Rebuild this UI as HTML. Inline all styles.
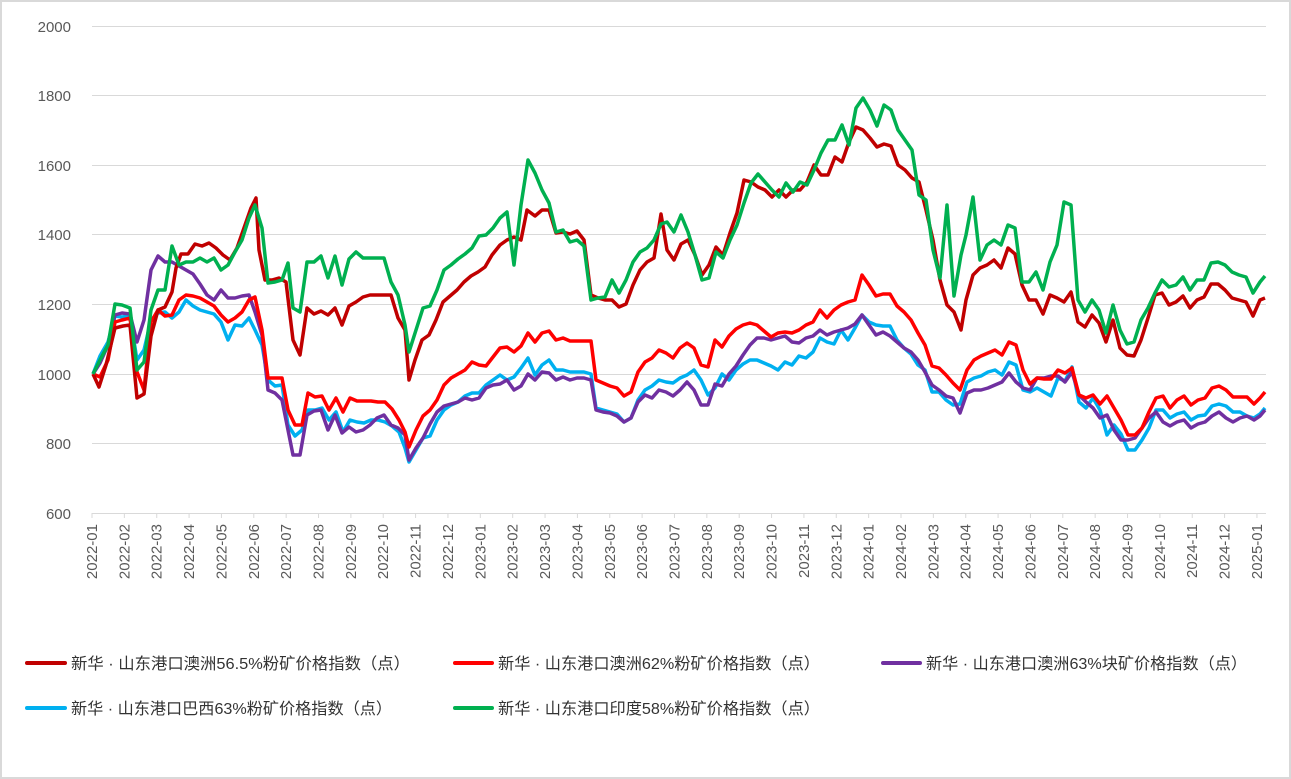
<!DOCTYPE html>
<html><head><meta charset="utf-8"><style>
body{margin:0;background:#fff}
svg{display:block}
text{font-family:"Liberation Sans","Noto Sans CJK SC",sans-serif;fill:#595959}
.lg{font-size:16px;fill:#333}
</style></head><body>
<svg width="1291" height="779" viewBox="0 0 1291 779">
<rect x="1" y="1" width="1289" height="777" fill="#fff" stroke="#d9d9d9" stroke-width="2"/>
<g stroke="#d9d9d9" stroke-width="1">
<line x1="92" y1="26.5" x2="1266" y2="26.5"/><line x1="92" y1="95.5" x2="1266" y2="95.5"/>
<line x1="92" y1="165.5" x2="1266" y2="165.5"/><line x1="92" y1="234.5" x2="1266" y2="234.5"/>
<line x1="92" y1="304.5" x2="1266" y2="304.5"/><line x1="92" y1="374.5" x2="1266" y2="374.5"/>
<line x1="92" y1="443.5" x2="1266" y2="443.5"/><line x1="92" y1="513.5" x2="1266" y2="513.5"/>
</g>
<g font-size="15" text-anchor="end">
<text x="71" y="32">2000</text><text x="71" y="101">1800</text><text x="71" y="171">1600</text>
<text x="71" y="240">1400</text><text x="71" y="310">1200</text><text x="71" y="380">1000</text>
<text x="71" y="449">800</text><text x="71" y="519">600</text>
</g>
<g id="ticks" stroke="#d9d9d9"></g>
<g id="xl" font-size="15" text-anchor="end"></g>
<g fill="none" stroke-width="3.5" stroke-linejoin="round">
<polyline stroke="#00b0f0" points="93,374 100,356 108,342 115,316 122,317 130,316 137,360 144,350 151,320 158,313 165,312 172,318 179,312 186,300 193,306 200,310 207,312 214,314 221,322 228,340 235,325 242,326 249,318 255,330 262,345 268,380 275,386 282,385 288,425 295,436 302,430 308,410 315,410 322,408 329,420 336,412 343,432 350,420 357,422 364,423 371,420 378,420 385,422 392,426 399,432 405,448 409,462 416,450 423,438 430,436 437,420 444,410 451,405 458,402 465,396 472,393 479,393 486,385 493,380 500,375 507,380 514,377 521,368 528,358 535,375 542,365 549,360 556,370 563,370 570,372 577,372 584,372 591,374 596,408 603,410 610,412 617,414 624,422 631,418 638,400 645,390 652,386 659,380 666,382 673,383 680,378 687,375 694,370 701,380 708,395 715,388 722,374 729,380 736,370 743,364 750,360 757,360 764,363 771,366 778,370 785,362 792,365 799,356 806,358 813,352 820,338 827,342 834,344 841,330 848,340 855,328 862,315 869,322 876,325 883,326 890,326 897,340 904,348 911,354 918,365 925,370 932,392 939,392 946,400 953,405 960,404 967,382 974,378 981,376 988,372 995,370 1002,375 1009,362 1016,365 1023,390 1030,392 1037,388 1044,392 1051,396 1058,378 1065,381 1072,367 1079,402 1086,408 1093,398 1100,410 1107,435 1114,425 1121,434 1128,450 1135,450 1142,440 1149,428 1156,410 1163,410 1170,418 1177,414 1184,412 1191,420 1198,416 1205,415 1212,406 1219,404 1226,406 1233,412 1240,412 1247,416 1254,418 1260,414 1265,408"/>
<polyline stroke="#7030a0" points="93,374 100,363 108,345 115,315 122,313 130,314 137,342 144,320 151,270 158,256 165,262 172,262 179,266 186,270 193,274 200,284 207,295 214,300 221,290 228,298 235,298 242,296 249,295 255,312 262,335 268,390 275,393 282,400 288,430 293,455 300,455 307,415 314,411 321,410 328,430 335,415 342,433 349,427 356,432 363,430 370,425 377,418 384,415 391,425 398,428 405,435 409,460 416,448 423,438 430,424 437,412 444,406 451,404 458,402 465,398 472,400 479,398 486,388 493,385 500,384 507,380 514,390 521,386 528,374 535,380 542,372 549,373 556,380 563,377 570,380 577,378 584,378 591,380 596,410 603,412 610,413 617,416 624,422 631,418 638,402 645,395 652,398 659,390 666,392 673,396 680,390 687,382 694,390 701,405 708,405 715,384 722,386 729,374 736,366 743,355 750,345 757,338 764,338 771,340 778,338 785,336 792,342 799,343 806,338 813,336 820,330 827,335 834,332 841,330 848,328 855,324 862,315 869,325 876,335 883,332 890,336 897,342 904,348 911,352 918,360 925,372 932,385 939,390 946,396 953,398 960,413 967,393 974,390 981,390 988,388 995,385 1002,382 1009,373 1016,382 1023,388 1030,390 1037,378 1044,378 1051,376 1058,376 1065,382 1072,372 1079,395 1086,402 1093,408 1100,418 1107,415 1114,430 1121,440 1128,440 1135,438 1142,428 1149,418 1156,412 1163,422 1170,426 1177,422 1184,420 1191,428 1198,424 1205,422 1212,416 1219,412 1226,418 1233,422 1240,418 1247,416 1254,420 1260,416 1265,410"/>
<polyline stroke="#ff0000" points="93,374 100,377 108,360 115,322 122,320 130,318 137,372 144,390 151,322 158,310 165,316 172,315 179,300 186,295 193,296 200,298 207,302 214,306 221,315 228,322 235,318 242,312 249,300 255,297 262,330 268,378 275,378 282,378 288,410 295,425 302,425 308,393 315,397 322,396 329,410 336,398 343,412 350,398 357,401 364,401 371,401 378,402 385,402 392,409 399,420 405,432 409,447 416,430 423,416 430,410 437,400 444,385 451,378 458,374 465,370 472,362 479,365 486,366 493,357 500,348 507,347 514,352 521,346 528,333 535,342 542,333 549,331 556,340 563,338 570,341 577,341 584,341 591,341 596,380 603,383 610,386 617,388 624,396 631,392 638,372 645,362 652,358 659,350 666,353 673,358 680,348 687,343 694,348 701,365 708,367 715,340 722,347 729,336 736,329 743,325 750,323 757,325 764,331 771,337 778,333 785,332 792,333 799,330 806,325 813,322 820,310 827,318 834,310 841,305 848,302 855,300 862,275 869,285 876,296 883,294 890,294 897,306 904,312 911,320 918,333 925,345 932,366 939,368 946,375 953,383 960,390 967,370 974,360 981,356 988,353 995,350 1002,355 1009,342 1016,345 1023,370 1030,384 1037,378 1044,379 1051,379 1058,370 1065,373 1072,368 1079,395 1086,398 1093,395 1100,404 1107,396 1114,408 1121,420 1128,435 1135,435 1142,428 1149,412 1156,398 1163,396 1170,408 1177,400 1184,396 1191,405 1198,400 1205,398 1212,388 1219,386 1226,390 1233,397 1240,397 1247,397 1254,404 1260,398 1265,392"/>
<polyline stroke="#c00000" points="93,374 99,387 106,365 115,328 123,326 130,325 137,398 144,394 151,336 158,310 165,307 172,292 176,268 181,254 188,254 195,244 202,246 209,243 216,248 223,255 230,260 237,248 244,228 251,208 256,198 259,250 265,280 272,280 279,278 286,282 293,340 300,355 307,308 314,314 321,311 328,315 335,308 342,325 349,306 356,302 363,297 370,295 377,295 384,295 391,295 398,318 405,330 409,380 415,360 422,340 429,335 436,320 443,302 450,296 457,290 464,282 471,276 478,272 485,267 492,255 500,245 507,240 514,237 521,240 527,210 535,216 542,210 549,210 556,233 563,232 570,234 577,231 584,240 591,295 598,298 605,300 612,300 619,307 626,304 633,285 640,270 647,262 654,258 661,214 667,250 674,260 681,244 688,240 695,255 702,275 709,265 716,247 723,255 730,233 737,213 744,180 751,182 758,187 765,190 772,197 779,190 786,197 793,190 800,190 807,182 814,165 821,175 828,175 835,157 842,162 849,142 856,127 863,130 870,138 877,147 884,144 891,146 898,165 905,170 912,178 919,182 926,210 933,240 940,280 947,305 954,312 961,330 966,300 973,275 980,268 987,265 994,260 1001,268 1008,248 1015,254 1022,285 1029,300 1036,300 1043,314 1050,295 1057,298 1064,302 1071,292 1078,322 1085,327 1092,315 1099,323 1106,342 1113,320 1120,348 1127,355 1134,356 1141,340 1148,318 1155,295 1162,293 1169,305 1176,302 1183,296 1190,308 1197,300 1204,297 1211,284 1218,284 1225,290 1232,298 1239,300 1246,302 1253,316 1260,300 1265,298"/>
<polyline stroke="#00b050" points="93,374 100,360 108,345 115,304 122,305 130,308 137,370 144,362 151,310 158,290 165,290 172,246 179,265 186,262 193,262 200,258 207,262 214,258 221,270 228,265 235,252 242,240 249,218 255,205 262,228 268,283 275,282 282,280 288,263 293,308 300,312 307,262 314,262 321,256 328,278 335,256 342,285 349,259 356,252 363,258 370,258 377,258 384,258 391,282 398,295 405,325 409,352 416,330 423,308 430,306 437,290 444,270 451,265 458,259 465,254 472,248 479,236 486,235 493,228 500,218 507,212 514,265 521,205 528,160 535,173 542,190 549,203 556,232 563,230 570,242 577,240 584,246 591,300 598,298 605,297 612,280 619,293 626,280 633,262 640,252 647,248 654,240 661,224 667,222 674,232 681,215 688,232 695,255 702,280 709,278 716,252 723,258 730,240 737,225 744,203 751,183 758,174 765,182 772,190 779,197 786,183 793,192 800,182 807,185 814,170 821,153 828,140 835,140 842,125 849,145 856,108 863,98 870,110 877,126 884,105 891,110 898,130 905,140 912,150 919,195 926,200 933,250 940,278 947,205 954,296 961,255 966,235 973,197 980,260 987,245 994,240 1001,245 1008,225 1015,228 1022,282 1029,282 1036,272 1043,290 1050,262 1057,245 1064,202 1071,205 1078,300 1085,312 1092,300 1099,310 1106,333 1113,305 1120,330 1127,344 1134,342 1141,320 1148,308 1155,293 1162,280 1169,287 1176,285 1183,277 1190,290 1197,280 1204,280 1211,263 1218,262 1225,265 1232,272 1239,275 1246,277 1253,293 1260,282 1265,276"/>
</g>
<g stroke-width="4" stroke-linecap="round">
<line x1="27" y1="663" x2="65" y2="663" stroke="#c00000"/>
<line x1="455" y1="663" x2="492" y2="663" stroke="#ff0000"/>
<line x1="883" y1="663" x2="920" y2="663" stroke="#7030a0"/>
<line x1="27" y1="708" x2="65" y2="708" stroke="#00b0f0"/>
<line x1="455" y1="708" x2="492" y2="708" stroke="#00b050"/>
</g>
<text class="lg" x="71" y="669" textLength="339" lengthAdjust="spacingAndGlyphs">新华 · 山东港口澳洲56.5%粉矿价格指数（点）</text>
<text class="lg" x="498" y="669" textLength="322" lengthAdjust="spacingAndGlyphs">新华 · 山东港口澳洲62%粉矿价格指数（点）</text>
<text class="lg" x="926" y="669" textLength="321" lengthAdjust="spacingAndGlyphs">新华 · 山东港口澳洲63%块矿价格指数（点）</text>
<text class="lg" x="71" y="714" textLength="321" lengthAdjust="spacingAndGlyphs">新华 · 山东港口巴西63%粉矿价格指数（点）</text>
<text class="lg" x="498" y="714" textLength="322" lengthAdjust="spacingAndGlyphs">新华 · 山东港口印度58%粉矿价格指数（点）</text>
</svg>
<script>
var ns="http://www.w3.org/2000/svg",t=document.getElementById("ticks"),xl=document.getElementById("xl");
for(var k=0;k<=36;k++){var x=92+k*32.36;
var l=document.createElementNS(ns,"line");l.setAttribute("x1",x);l.setAttribute("x2",x);l.setAttribute("y1",513);l.setAttribute("y2",518);t.appendChild(l);
var y=2022+Math.floor(k/12),m=k%12+1;
var tx=document.createElementNS(ns,"text");tx.setAttribute("transform","translate("+(x+5)+",524) rotate(-90)");tx.textContent=y+"-"+(m<10?"0":"")+m;xl.appendChild(tx);}
</script>
</body></html>
